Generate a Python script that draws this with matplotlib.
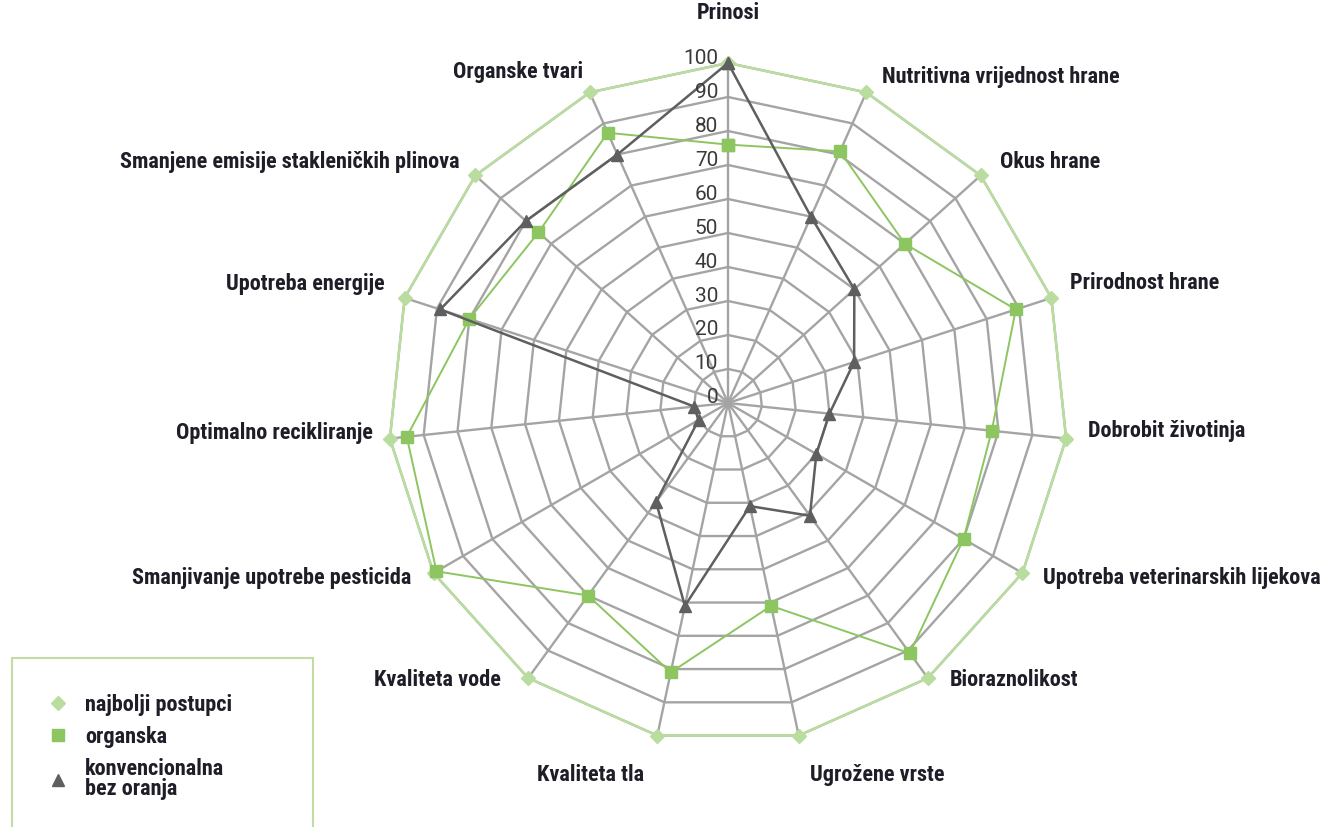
import os
import numpy as np
import matplotlib
matplotlib.use("Agg")
import matplotlib.pyplot as plt
from matplotlib import font_manager as fm
from matplotlib.font_manager import FontProperties
from matplotlib.lines import Line2D
from matplotlib.patches import Rectangle

# ---------------- data ----------------
categories = [
    "Prinosi", "Nutritivna vrijednost hrane", "Okus hrane", "Prirodnost hrane",
    "Dobrobit životinja", "Upotreba veterinarskih lijekova", "Bioraznolikost",
    "Ugrožene vrste", "Kvaliteta tla", "Kvaliteta vode",
    "Smanjivanje upotrebe pesticida", "Optimalno recikliranje",
    "Upotreba energije", "Smanjene emisije stakleničkih plinova", "Organske tvari",
]
najbolji = [100] * 15
organska = [76, 81, 70, 89, 78, 80, 91, 61, 81, 70, 99, 95, 80, 75, 87]
konvencionalna = [100, 60, 50, 39, 30, 30, 41, 31, 61, 36, 10, 10, 89, 80, 80]
radial_ticks = [0, 10, 20, 30, 40, 50, 60, 70, 80, 90, 100]
series_names = ["najbolji postupci", "organska", "konvencionalna\nbez oranja"]

# ---------------- fonts ----------------
files = {os.path.basename(f.fname): f.fname for f in fm.fontManager.ttflist}
bold_pref = ["RobotoCondensed-Bold.ttf", "LiberationSansNarrow-Bold.ttf",
             "DejaVuSansCondensed-Bold.ttf"]
bold_file = next((files[b] for b in bold_pref if b in files), None)

def fp_bold(size):
    if bold_file:
        return FontProperties(fname=bold_file, size=size)
    return FontProperties(family="DejaVu Sans", weight="bold", size=size * 0.82)

def fp_reg(size):
    return FontProperties(family=["Roboto", "DejaVu Sans"], size=size)

W, H = 1338, 827
fig = plt.figure(figsize=(W / 100, H / 100), dpi=100)
fig.patch.set_facecolor("white")

cx, cy, R = 728, 403, 340
ax = fig.add_axes([(cx - R) / W, 1 - (cy + R) / H, 2 * R / W, 2 * R / H], projection="polar")
ax.set_theta_zero_location("N")
ax.set_theta_direction(-1)
ax.set_ylim(0, 100)
ax.grid(False)
ax.set_xticks([])
ax.set_yticks([])
ax.spines["polar"].set_visible(False)
ax.patch.set_alpha(0)

n = len(categories)
theta = np.arange(n) * 2 * np.pi / n
theta_c = np.append(theta, theta[0])

grid_col = "#a4a4a4"
for lv in radial_ticks[1:]:
    ax.plot(theta_c, [lv] * (n + 1), color=grid_col, lw=1.7, zorder=1)
for t in theta:
    ax.plot([t, t], [0, 100], color=grid_col, lw=1.7, zorder=1)

def closed(v):
    return list(v) + [v[0]]

best_col = "#b9dc9f"
org_col = "#8dc560"
conv_col = "#5f5f5f"

ax.plot(theta_c, closed(najbolji), color=best_col, lw=1.8, marker="D",
        markersize=7, markerfacecolor=best_col, markeredgecolor=best_col, zorder=3, clip_on=False)
ax.plot(theta_c, closed(organska), color=org_col, lw=1.4, marker="s",
        markersize=9, markerfacecolor=org_col, markeredgecolor=org_col, zorder=4, clip_on=False)
ax.plot(theta_c, closed(konvencionalna), color=conv_col, lw=1.8, marker="^",
        markersize=9, markerfacecolor=conv_col, markeredgecolor=conv_col, zorder=5, clip_on=False)

# radial tick labels
for lv in radial_ticks:
    ax.annotate(str(lv), xy=(0, lv), xytext=(-10, 5), textcoords="offset pixels",
                ha="right", va="center", color="#3a3a3a",
                fontproperties=fp_reg(15), zorder=6)

# category labels (pixel offsets from the outer vertex)
offsets = [(0, 50), (16, 15), (19, 13), (19, 15), (22, 8), (21, -5), (22, -2),
           (11, -39), (-13, -39), (-27, -2), (-22, -5), (-17, 6), (-20, 14),
           (-16, 13), (-7, 20)]
for i, (cat, t) in enumerate(zip(categories, theta)):
    dx, dy = offsets[i]
    if i == 0:
        ha = "center"
    elif dx > 0:
        ha = "left"
    else:
        ha = "right"
    ax.annotate(cat, xy=(t, 100), xytext=(dx, dy), textcoords="offset pixels",
                ha=ha, va="center", color="#1e1e28",
                fontproperties=fp_bold(16), annotation_clip=False, zorder=6)

# legend
fig.add_artist(Rectangle((12 / W, -0.01), 301 / W, (827 - 658) / H + 0.01,
                         transform=fig.transFigure, facecolor="white",
                         edgecolor="#c3dca6", lw=1.5))
handles = [
    Line2D([], [], ls="none", marker="D", markersize=7, color=best_col),
    Line2D([], [], ls="none", marker="s", markersize=8, color=org_col),
    Line2D([], [], ls="none", marker="^", markersize=8, color=conv_col),
]
leg = fig.legend(handles, series_names, loc="upper left",
                 bbox_to_anchor=(34 / W, 1 - 683 / H), frameon=False,
                 prop=fp_bold(16),
                 handletextpad=0.6, labelspacing=0.45, borderpad=0, handlelength=1.2)
for txt in leg.get_texts():
    txt.set_color("#1e1e28")
    txt.set_linespacing(0.9)

fig.savefig("out.png", dpi=100, facecolor="white")
